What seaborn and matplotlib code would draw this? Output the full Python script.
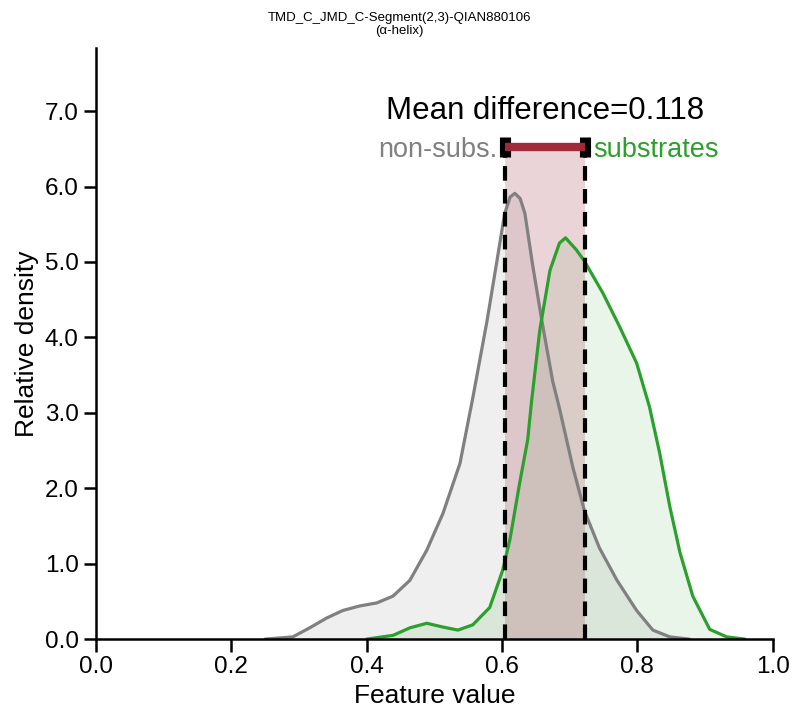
import numpy as np
import pandas as pd
import matplotlib
matplotlib.use("Agg")
import matplotlib.pyplot as plt
import seaborn as sns

sns.set_style("ticks")
plt.rcParams['font.family'] = ['Liberation Sans', 'DejaVu Sans']
plt.rcParams['text.color'] = 'black'
plt.rcParams['axes.labelcolor'] = 'black'
plt.rcParams['xtick.color'] = 'black'
plt.rcParams['ytick.color'] = 'black'
plt.rcParams['axes.edgecolor'] = 'black'

# Density curves
x_ref = [0.25, 0.291, 0.316, 0.341, 0.365, 0.390, 0.415, 0.439, 0.464, 0.489, 0.513,
         0.538, 0.557, 0.578, 0.592, 0.604, 0.612, 0.619, 0.627, 0.634, 0.645, 0.659,
         0.675, 0.685, 0.705, 0.722, 0.744, 0.770, 0.799, 0.823, 0.848, 0.877]
y_ref = [0.0, 0.03, 0.15, 0.28, 0.38, 0.44, 0.48, 0.57, 0.78, 1.18, 1.67,
         2.33, 3.20, 4.22, 4.98, 5.64, 5.86, 5.91, 5.84, 5.64, 4.98, 4.22,
         3.42, 3.06, 2.27, 1.70, 1.21, 0.78, 0.38, 0.12, 0.03, 0.0]
x_test = [0.40, 0.439, 0.464, 0.489, 0.513, 0.535, 0.557, 0.582, 0.601, 0.612, 0.626,
          0.638, 0.644, 0.656, 0.671, 0.685, 0.694, 0.710, 0.722, 0.749, 0.774, 0.799,
          0.818, 0.833, 0.848, 0.863, 0.882, 0.907, 0.932, 0.959]
y_test = [0.0, 0.05, 0.15, 0.21, 0.16, 0.12, 0.19, 0.42, 0.91, 1.33, 2.06,
          2.64, 3.17, 4.10, 4.89, 5.25, 5.32, 5.16, 5.01, 4.59, 4.14, 3.66,
          3.08, 2.47, 1.76, 1.15, 0.57, 0.13, 0.03, 0.0]

mean_ref = 0.605
mean_test = 0.723
bar_y = 6.52

title = "TMD_C_JMD_C-Segment(2,3)-QIAN880106\n(α-helix)"
labels = ["non-subs.", "substrates"]
col_ref = "#808080"
col_test = "#2ca02c"
col_bar = "#9e2a3b"

df = pd.concat([
    pd.DataFrame({"x": x_ref, "y": y_ref, "group": labels[0]}),
    pd.DataFrame({"x": x_test, "y": y_test, "group": labels[1]}),
])

fig, ax = plt.subplots(figsize=(7.99, 7.23), dpi=100)
fig.subplots_adjust(left=0.12, right=0.967, top=0.934, bottom=0.116)

sns.lineplot(data=df, x="x", y="y", hue="group", palette=[col_ref, col_test],
             linewidth=2.3, legend=False, ax=ax)
for ln in ax.lines:
    ln.set_solid_joinstyle("round")
ax.fill_between(x_ref, y_ref, color=col_ref, alpha=0.12, lw=0)
ax.fill_between(x_test, y_test, color=col_test, alpha=0.1, lw=0)

# Mean difference region
ax.axvspan(mean_ref, mean_test, ymin=0, ymax=bar_y / 7.84, color=col_bar, alpha=0.2, lw=0)
for m in (mean_ref, mean_test):
    ax.plot([m, m], [0, bar_y], color="black", lw=3, ls=(0, (3.5, 2)))
    ax.plot([m, m], [bar_y - 0.13, bar_y + 0.13], color="black", lw=8, solid_capstyle="butt")
ax.plot([mean_ref, mean_test], [bar_y, bar_y], color=col_bar, lw=6, solid_capstyle="butt")

ax.text((mean_ref + mean_test) / 2, 7.0, "Mean difference=0.118", ha="center", va="center",
        fontsize=22.5)
ax.text(mean_ref - 0.012, 6.49, labels[0], ha="right", va="center", fontsize=19.5, color=col_ref)
ax.text(mean_test + 0.012, 6.49, labels[1], ha="left", va="center", fontsize=19.5, color=col_test)

ax.set_xlim(0, 1)
ax.set_ylim(0, 7.84)
ax.set_xticks([0, 0.2, 0.4, 0.6, 0.8, 1.0])
ax.set_xticklabels(["0.0", "0.2", "0.4", "0.6", "0.8", "1.0"])
ax.set_yticks(range(8))
ax.set_yticklabels([f"{v:.1f}" for v in range(8)])
ax.tick_params(labelsize=17.5, length=9, width=1.8)
ax.set_xlabel("Feature value", fontsize=19)
ax.set_ylabel("Relative density", fontsize=19)
fig.suptitle(title, fontsize=9.5, x=0.5, y=0.984)
for s in ("left", "bottom"):
    ax.spines[s].set_linewidth(1.8)
sns.despine(ax=ax)

fig.savefig("out.png", dpi=100)
